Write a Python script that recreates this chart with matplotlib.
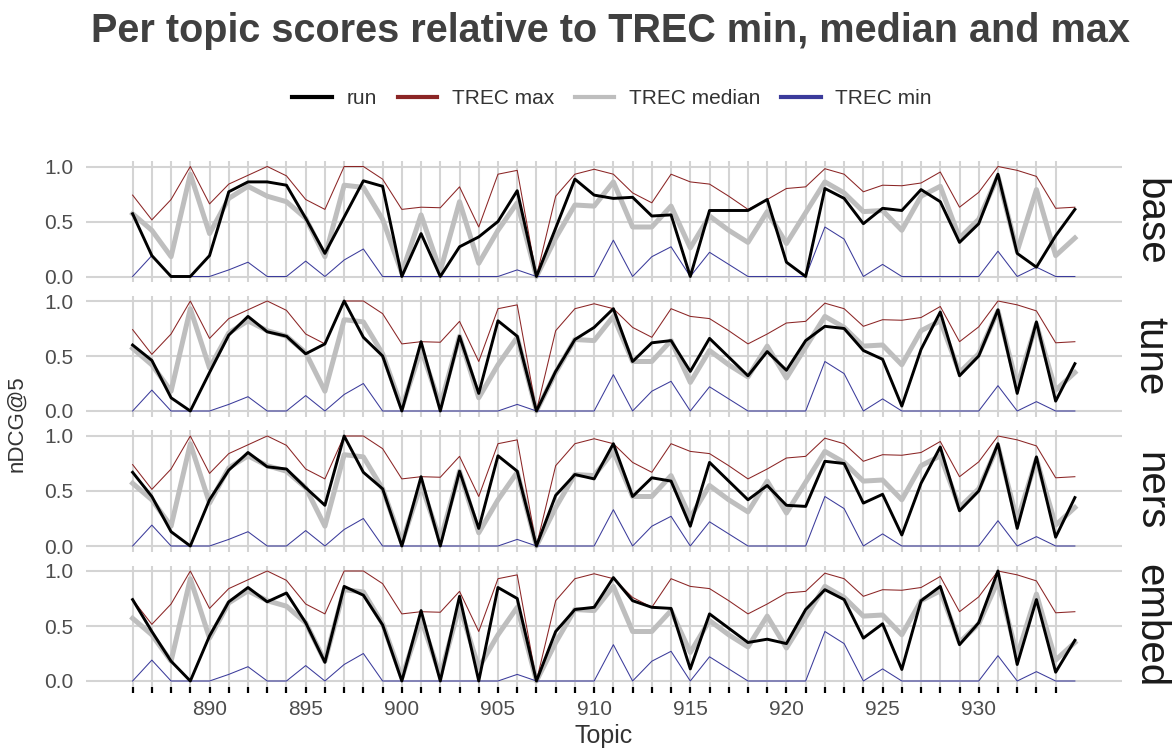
import matplotlib.pyplot as plt
from matplotlib.lines import Line2D
import numpy as np

plt.rcParams['font.family'] = ['Liberation Sans', 'DejaVu Sans']

# Topics 886..935
topics = np.arange(886, 936)

# TREC reference scores (same in every facet)
trec_max = [0.74, 0.515, 0.70, 1.0, 0.66, 0.84, 0.92, 1.0, 0.915, 0.70,
            0.61, 1.0, 1.0, 0.885, 0.61, 0.63, 0.625, 0.815, 0.45, 0.93,
            0.965, 0.0, 0.73, 0.93, 0.975, 0.93, 0.76, 0.67, 0.93, 0.86,
            0.84, 0.73, 0.61, 0.70, 0.80, 0.815, 0.98, 0.93, 0.77, 0.83,
            0.825, 0.85, 0.95, 0.63, 0.765, 1.0, 0.965, 0.91, 0.62, 0.63]
trec_median = [0.57, 0.42, 0.18, 0.93, 0.39, 0.71, 0.82, 0.73, 0.68, 0.53,
               0.18, 0.83, 0.81, 0.52, 0.03, 0.56, 0.05, 0.68, 0.12, 0.42,
               0.67, 0.0, 0.35, 0.65, 0.64, 0.86, 0.45, 0.45, 0.64, 0.26,
               0.55, 0.42, 0.31, 0.59, 0.30, 0.58, 0.86, 0.76, 0.59, 0.60,
               0.42, 0.73, 0.82, 0.35, 0.52, 0.91, 0.23, 0.79, 0.19, 0.35]
trec_min = [0.0, 0.19, 0.0, 0.0, 0.0, 0.06, 0.13, 0.0, 0.0, 0.14,
            0.0, 0.15, 0.25, 0.0, 0.0, 0.0, 0.0, 0.0, 0.0, 0.0,
            0.06, 0.0, 0.0, 0.0, 0.0, 0.33, 0.0, 0.18, 0.27, 0.0,
            0.22, 0.11, 0.0, 0.0, 0.0, 0.0, 0.45, 0.34, 0.0, 0.11,
            0.0, 0.0, 0.0, 0.0, 0.0, 0.23, 0.0, 0.085, 0.0, 0.0]

# run scores per facet
run_base = [0.57, 0.19, 0.0, 0.0, 0.19, 0.77, 0.86, 0.86, 0.83, 0.53,
            0.21, 0.54, 0.87, 0.82, 0.0, 0.39, 0.0, 0.27, 0.36, 0.50,
            0.78, 0.0, 0.44, 0.885, 0.74, 0.71, 0.72, 0.55, 0.56, 0.0,
            0.60, 0.60, 0.60, 0.70, 0.13, 0.0, 0.80, 0.71, 0.48, 0.62,
            0.60, 0.79, 0.68, 0.31, 0.48, 0.93, 0.21, 0.085, 0.37, 0.61]
run_tune = [0.60, 0.46, 0.12, 0.0, 0.35, 0.69, 0.86, 0.72, 0.68, 0.52,
            0.61, 1.0, 0.67, 0.50, 0.0, 0.63, 0.0, 0.68, 0.16, 0.82,
            0.68, 0.0, 0.36, 0.65, 0.76, 0.93, 0.45, 0.62, 0.64, 0.36,
            0.66, 0.49, 0.32, 0.54, 0.37, 0.64, 0.77, 0.75, 0.55, 0.47,
            0.045, 0.56, 0.90, 0.32, 0.50, 0.92, 0.16, 0.81, 0.09, 0.43]
run_ners = [0.67, 0.45, 0.13, 0.0, 0.42, 0.69, 0.85, 0.72, 0.70, 0.53,
            0.37, 1.0, 0.67, 0.52, 0.0, 0.63, 0.0, 0.68, 0.16, 0.82,
            0.68, 0.0, 0.46, 0.65, 0.61, 0.93, 0.45, 0.62, 0.59, 0.18,
            0.76, 0.59, 0.42, 0.55, 0.37, 0.36, 0.77, 0.75, 0.39, 0.47,
            0.10, 0.57, 0.90, 0.32, 0.50, 0.93, 0.16, 0.81, 0.08, 0.44]
run_embed = [0.74, 0.45, 0.18, 0.0, 0.41, 0.72, 0.85, 0.72, 0.80, 0.53,
             0.17, 0.86, 0.78, 0.51, 0.0, 0.64, 0.0, 0.77, 0.0, 0.85,
             0.75, 0.0, 0.45, 0.65, 0.67, 0.94, 0.73, 0.67, 0.66, 0.11,
             0.61, 0.48, 0.35, 0.38, 0.34, 0.65, 0.83, 0.74, 0.39, 0.52,
             0.105, 0.73, 0.86, 0.33, 0.53, 1.0, 0.15, 0.74, 0.08, 0.37]

facets = ["base", "tune", "ners", "embed"]
runs = [run_base, run_tune, run_ners, run_embed]

col_max = "#8b2525"
col_med = "#bebebe"
col_min = "#3b3b9b"
grid_col = "#d4d4d4"
txt_col = "#4d4d4d"

fig = plt.figure(figsize=(11.72, 7.49), dpi=100)
W, H = 1172, 749
left, right = 85.5, 1122
tops = [161, 295.5, 430.5, 565.5]
ph = 121

for k, (name, run) in enumerate(zip(facets, runs)):
    ax = fig.add_axes([left / W, 1 - (tops[k] + ph) / H, (right - left) / W, ph / H])
    for s in ax.spines.values():
        s.set_visible(False)
    ax.set_xlim(886 - 2.45, 935 + 2.45)
    ax.set_ylim(-0.05, 1.05)
    for t in range(886, 935):
        ax.axvline(t, color=grid_col, lw=1.5, zorder=0)
    for yv in [0, 0.5, 1.0]:
        ax.axhline(yv, color=grid_col, lw=1.5, zorder=0)

    ax.plot(topics, trec_median, color=col_med, lw=3.6, zorder=2)
    ax.plot(topics, trec_max, color=col_max, lw=0.75, zorder=3)
    ax.plot(topics, trec_min, color=col_min, lw=0.75, zorder=3)
    ax.plot(topics, run, color="black", lw=2.1, zorder=4)

    ax.set_yticks([0, 0.5, 1.0])
    ax.set_yticklabels(["0.0", "0.5", "1.0"], fontsize=15, color=txt_col)
    ax.tick_params(axis='y', length=0, pad=9)
    ax.set_xticks(range(886, 935))
    if k == 3:
        ax.set_xticklabels([str(t) if t % 5 == 0 else "" for t in range(886, 935)],
                           fontsize=15, color=txt_col)
        ax.tick_params(axis='x', length=4, width=1.6, color="black", pad=6, direction='out')
        ax.set_xlabel("Topic", fontsize=18, color="#333333", labelpad=3)
    else:
        ax.tick_params(axis='x', length=0, labelbottom=False)

    ax.text(1.027, 0.5, name, rotation=270, transform=ax.transAxes,
            ha='center', va='center', fontsize=29, color="#1a1a1a")

fig.text(17 / W, 1 - 424 / H, "nDCG@5", rotation=90, ha='center', va='center',
         fontsize=16, color="#333333")

fig.text(610 / W, 1 - 31 / H, "Per topic scores relative to TREC min, median and max",
         ha='center', va='center', fontsize=28.5, fontweight='bold', color="#404040")

handles = [Line2D([], [], color="black", lw=3),
           Line2D([], [], color=col_max, lw=3),
           Line2D([], [], color=col_med, lw=3),
           Line2D([], [], color=col_min, lw=3)]
fig.legend(handles, ["run", "TREC max", "TREC median", "TREC min"],
           loc='center', bbox_to_anchor=(612 / W, 1 - 99 / H), ncol=4,
           frameon=False, fontsize=15, handlelength=1.9, handletextpad=0.7,
           columnspacing=1.0, labelcolor="#333333")

fig.savefig("out.png", dpi=100)
